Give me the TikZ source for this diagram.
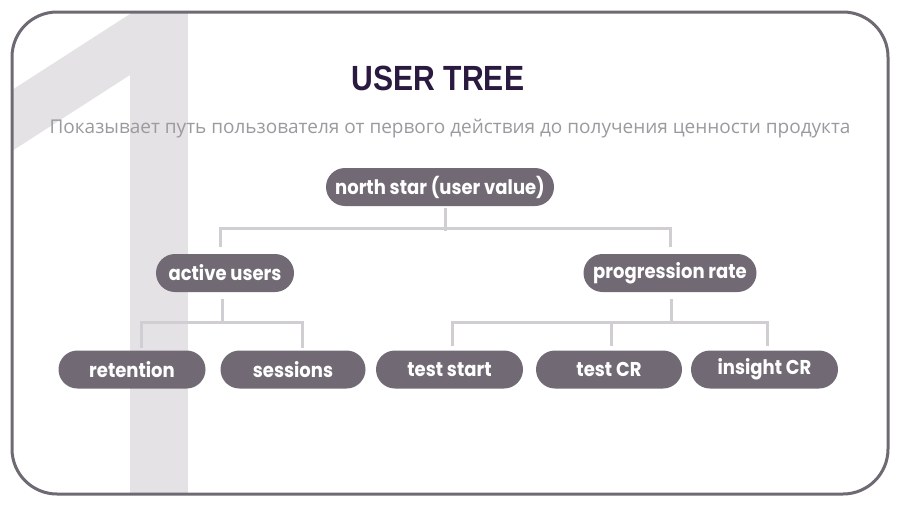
\documentclass[tikz,border=0pt]{standalone}
\usepackage{fontspec}
\setmainfont{Liberation Sans}
\newfontfamily\nodefont{Poppins}[FakeStretch=0.9]
\newfontfamily\titlefont{Liberation Sans}
\newfontfamily\subfont{Open Sans}
\definecolor{framec}{HTML}{6E6972}
\definecolor{pillc}{HTML}{716A75}
\definecolor{linec}{HTML}{D0CED2}
\definecolor{onec}{HTML}{E4E2E5}
\definecolor{titlec}{HTML}{2B1A3F}
\definecolor{subc}{HTML}{9C999F}
\tikzset{
  pill/.style={rounded corners=19pt, fill=pillc, text=white, minimum height=38pt, inner sep=0pt, font=\nodefont\fontsize{20}{22}\selectfont\bfseries, anchor=center},
  conn/.style={draw=linec, line width=3pt}
}
\begin{document}
\begin{tikzpicture}[x=1pt,y=-1pt]
\useasboundingbox (0,0) rectangle (900,506);
\fill[white] (0,0) rectangle (900,506);
% big "1"
\begin{scope}
\clip[rounded corners=45pt] (12,12) rectangle (888,494);
\fill[onec] (130,12) rectangle (188,494);
\fill[onec] (12,90) -- (130,14) -- (130,75) -- (12,151) -- cycle;
\end{scope}
\draw[framec, line width=3pt, rounded corners=45pt] (12,12) rectangle (888,494);
% title
\node[text=titlec, font=\titlefont\fontsize{35}{38}\selectfont\bfseries] (title) at (438,78) {\scalebox{0.86}[1]{USER TREE}};
\node[text=subc, font=\subfont\fontsize{19}{22}\selectfont] (sub) at (450,129) {Показывает путь пользователя от первого действия до получения ценности продукта};
% nodes
\node[pill, minimum width=228pt] (ns) at (440,187) {north star (user value)};
\node[pill, minimum width=138pt] (au) at (225,273) {active users};
\node[pill, minimum width=173pt] (pr) at (670,273) {progression rate};
\node[pill, minimum width=147pt] (re) at (132,369.5) {retention};
\node[pill, minimum width=145pt] (se) at (293,369.5) {sessions};
\node[pill, minimum width=147pt] (ts) at (449.5,369.5) {test start};
\node[pill, minimum width=146pt] (tc) at (609,369.5) {test CR};
\node[pill, minimum width=147pt] (ic) at (764.5,369.5) {insight CR};
% connectors
\draw[conn] ([xshift=5pt,yshift=-2pt]ns.south) -- ++(0,23);
\draw[conn] (220,247) -- (220,228) -- (670,228) -- (670,247);
\draw[conn] ([xshift=-3pt,yshift=-7pt]au.south) -- ++(0,23);
\draw[conn] (141,348) -- (141,322) -- (302,322) -- (302,348);
\draw[conn] ([xshift=1pt,yshift=-7pt]pr.south) -- ++(0,23);
\draw[conn] (452,346) -- (452,322) -- (767,322) -- (767,346);
\draw[conn] (611,322) -- (611,346);
\end{tikzpicture}
\end{document}
